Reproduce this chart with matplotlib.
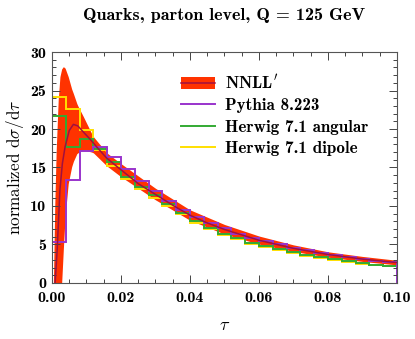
import numpy as np
import matplotlib
matplotlib.use("Agg")
import matplotlib.pyplot as plt
from matplotlib.lines import Line2D
from matplotlib.patches import Patch

plt.rcParams['mathtext.fontset'] = 'cm'

# histogram bin edges (tau), width 0.004
edges = np.linspace(0.0, 0.1, 26)

pythia = [5.3, 13.4, 17.1, 17.6, 16.4, 14.8, 13.3, 12.0, 10.6, 9.5,
          8.55, 7.85, 7.1, 6.4, 5.9, 5.4, 5.0, 4.6, 4.3, 3.95,
          3.65, 3.35, 3.1, 2.9, 2.75]
herwig_ang = [21.7, 17.6, 18.7, 17.4, 15.7, 13.8, 12.5, 11.4, 10.2, 9.1,
              8.0, 7.1, 6.4, 5.8, 5.25, 4.8, 4.4, 4.05, 3.7, 3.4,
              3.1, 2.85, 2.6, 2.4, 2.25]
herwig_dip = [24.1, 22.6, 19.9, 17.3, 15.2, 13.5, 12.2, 11.1, 9.95, 8.9,
              7.85, 6.95, 6.25, 5.65, 5.1, 4.65, 4.25, 3.9, 3.55, 3.25,
              2.95, 2.7, 2.5, 2.3, 2.15]

# NNLL' central curve and uncertainty band
tau_c = [0.0009, 0.0015, 0.0023, 0.003, 0.0038, 0.005, 0.0062, 0.0075, 0.0091,
         0.011, 0.0135, 0.0159, 0.02, 0.025, 0.03, 0.035, 0.04, 0.045, 0.05,
         0.06, 0.07, 0.08, 0.09, 0.1]
nnll_c = [0.0, 4.3, 12.1, 15.5, 17.7, 19.8, 20.6, 20.4, 19.6,
          18.7, 17.4, 16.2, 14.7, 12.9, 11.5, 10.1, 8.8, 7.8, 6.95,
          5.55, 4.5, 3.7, 3.1, 2.65]

tau_b = [0.0, 0.0004, 0.0008, 0.0012, 0.0018, 0.0023, 0.0028, 0.0033, 0.0038,
         0.0047, 0.0057, 0.0062, 0.0072, 0.0075, 0.0091, 0.0115, 0.012, 0.0159,
         0.02, 0.03, 0.04, 0.05, 0.06, 0.07, 0.08, 0.09, 0.1]
band_hi = [0.0, 0.0, 10.0, 17.0, 23.8, 26.8, 27.8, 28.1, 27.9,
           26.8, 25.2, 24.6, 23.3, 23.0, 21.6, 19.4, 19.0, 16.9,
           15.5, 12.3, 9.5, 7.6, 6.1, 4.95, 4.05, 3.45, 2.95]
band_lo = [0.0, 0.0, 0.0, 0.0, 0.0, 0.0, 0.0, 4.5, 8.6,
           12.9, 15.1, 15.8, 16.8, 16.9, 17.3, 17.0, 16.9, 15.2,
           13.8, 10.8, 8.15, 6.35, 5.05, 4.1, 3.35, 2.8, 2.35]

red = '#ff3300'
dark = '#a01040'
purple = '#9933cc'
green = '#33aa33'
yellow = '#ffe000'

fig = plt.figure(figsize=(4.15, 3.39), dpi=100)
ax = fig.add_axes([0.1253, 0.1652, 0.8313, 0.6814])

ax.fill_between(tau_b, band_lo, band_hi, color=red, lw=0)
ax.stairs(herwig_dip, edges, color=yellow, lw=1.4)
ax.stairs(herwig_ang, edges, color=green, lw=1.4)
ax.stairs(pythia, edges, color=purple, lw=1.4)
ax.plot(tau_c, nnll_c, color=dark, lw=1.1)

ax.set_xlim(0, 0.1)
ax.set_ylim(0, 30)
ax.set_xticks(np.arange(0, 0.101, 0.02))
ax.set_xticks(np.arange(0, 0.101, 0.005), minor=True)
ax.set_yticks(np.arange(0, 31, 5))
ax.set_yticks(np.arange(0, 31, 1), minor=True)
ax.set_xticklabels(['%.2f' % v for v in np.arange(0, 0.101, 0.02)])
ax.tick_params(which='both', direction='in', top=True, right=True,
               color='#444444', width=0.7, labelsize=11.5)
ax.tick_params(which='major', length=6)
ax.tick_params(which='minor', length=3)
ax.tick_params(axis='x', which='major', pad=6)
ax.tick_params(axis='y', which='major', pad=4)
for lab in ax.get_xticklabels() + ax.get_yticklabels():
    lab.set_fontfamily('cmb10')
for s in ax.spines.values():
    s.set_color('#555555')
    s.set_linewidth(0.8)

ax.set_xlabel(r'$\tau$', fontsize=13, labelpad=8)
ax.set_ylabel(r'normalized d$\sigma$/d$\tau$', fontsize=12.3,
              fontfamily='cmr10', labelpad=3)
fig.text(0.541, 0.955, 'Quarks, parton level, Q = 125 GeV', ha='center',
         va='center', fontfamily='cmb10', fontsize=13)

handles = [(Patch(facecolor=red, edgecolor='none'), Line2D([], [], color=dark, lw=1.1)),
           Line2D([], [], color=purple, lw=1.4),
           Line2D([], [], color=green, lw=1.4),
           Line2D([], [], color=yellow, lw=1.4)]
labels = [r"NNLL$'$", 'Pythia 8.223', 'Herwig 7.1 angular', 'Herwig 7.1 dipole']
leg = ax.legend(handles, labels, loc='upper left', bbox_to_anchor=(0.33, 0.975),
                frameon=False, handlelength=2.0, handletextpad=0.55,
                labelspacing=0.38, prop={'family': 'cmb10', 'size': 12.3})

fig.savefig('out.png', dpi=100)
